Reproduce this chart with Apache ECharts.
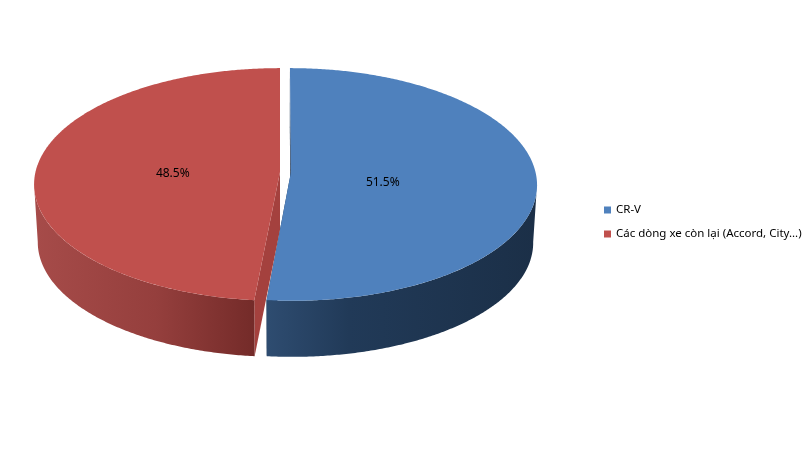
<!DOCTYPE html>
<html>
<head>
<meta charset="utf-8">
<style>html,body{margin:0;padding:0;background:#fff}#c{width:811px;height:454px}</style>
<script src="https://cdn.jsdelivr.net/npm/echarts@6/dist/echarts.min.js"></script>
</head>
<body>
<div id="c"></div>
<script>
const categories = ['CR-V', 'Các dòng xe còn lại (Accord, City...)'];
const percentValues = [51.5, 48.5];

// projection of the tilted disc
const view = {xc: 280, yc: 172, w: 244.5, h: 115, k: 0.107, depth: 58, bottomScale: 0.985};
const wallLimits = [96, 264];
const looks = [
  {top: '#4F81BD', shift: 11, face: '#1F3552', labelR: 0.375, labelDy: 9,
   side: [[0, '#2E4C70'], [0.3, '#213A58'], [1, '#1B2F47']], sideFrom: [268, 538]},
  {top: '#C0504D', shift: 0, face: '#A4413E', labelR: 0.44, labelDy: 4,
   side: [[0, '#A64B49'], [0.55, '#953F3D'], [1, '#742B29']], sideFrom: [36, 254]}
];

function project(deg, r, shift, level) {
  const t = deg * Math.PI / 180, u = Math.sin(t) * r, v = Math.cos(t) * r;
  const s = level ? view.bottomScale : 1, q = 1 + view.k * v;
  return [
    view.xc + s * (view.w * u + shift) / q,
    view.yc + (level ? view.depth : 0) - s * view.h * v / q
  ];
}
function arc(a, b, shift, level) {
  const pts = [], n = Math.max(2, Math.ceil(Math.abs(b - a) * 2));
  for (let i = 0; i <= n; i++) pts.push(project(a + (b - a) * i / n, 1, shift, level));
  return pts;
}
const total = percentValues.reduce((a, b) => a + b, 0);
const spans = [];
percentValues.reduce((acc, v) => {
  const end = acc + v / total * 360;
  spans.push([acc, end]);
  return end;
}, 0);

function sliceItem(idx) {
  const [a, b] = spans[idx], L = looks[idx];
  const apexTop = project(0, 0, L.shift, 0), apexBot = project(0, 0, L.shift, 1);
  const kids = [];
  // cut faces
  [a, b].forEach(deg => {
    kids.push({type: 'polygon', shape: {points: [apexTop, project(deg, 1, L.shift, 0), project(deg, 1, L.shift, 1), apexBot]},
      style: {fill: L.face}, z2: 1});
  });
  // outer wall: only the front part of the rim, between the silhouette extremes
  const from = Math.max(a, wallLimits[0]), to = Math.min(b, wallLimits[1]);
  const pts = arc(from, to, L.shift, 0).concat(arc(to, from, L.shift, 1));
  kids.push({type: 'polygon', shape: {points: pts},
    style: {fill: new echarts.graphic.LinearGradient(L.sideFrom[0], 0, L.sideFrom[1], 0,
      L.side.map(s => ({offset: s[0], color: s[1]})), true)}, z2: 2});
  // top
  kids.push({type: 'polygon', shape: {points: [apexTop].concat(arc(a, b, L.shift, 0))},
    style: {fill: L.top}, z2: 3});
  // label
  const mid = (a + b) / 2, p = project(mid, L.labelR, L.shift, 0);
  kids.push({type: 'text', x: p[0], y: p[1] + L.labelDy,
    style: {text: percentValues[idx].toFixed(1) + '%', fill: '#000', align: 'center', verticalAlign: 'middle',
      font: '12px "Noto Sans"'}, z2: 4});
  return {type: 'group', children: kids};
}

const chart = echarts.init(document.getElementById('c'), null, {renderer: 'canvas'});
chart.setOption({
  animation: false,
  backgroundColor: '#fff',
  legend: {
    orient: 'vertical', left: 604, top: 204, padding: 0, itemWidth: 7, itemHeight: 7, itemGap: 12, icon: 'rect',
    data: categories, selectedMode: false,
    textStyle: {fontFamily: 'Noto Sans', fontSize: 11.5, color: '#000'}
  },
  series: categories.map((name, i) => ({
    type: 'custom', name, coordinateSystem: 'none', silent: true,
    itemStyle: {color: looks[i].top},
    data: [percentValues[i]],
    renderItem: () => sliceItem(i)
  }))
});
</script>
</body>
</html>
